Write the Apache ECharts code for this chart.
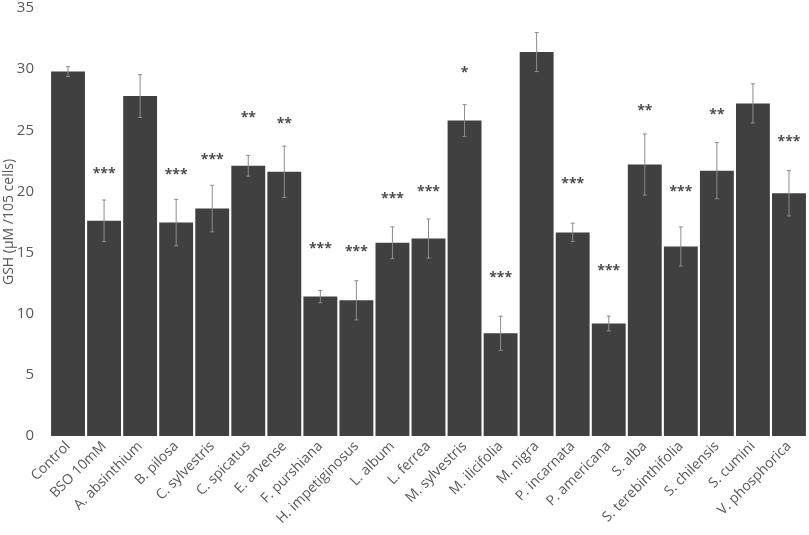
<!DOCTYPE html>
<html>
<head>
<meta charset="utf-8">
<script src="https://cdn.jsdelivr.net/npm/echarts@6/dist/echarts.min.js"></script>
<style>
  html, body { margin: 0; padding: 0; background: #fff; }
  #chart { width: 809px; height: 535px; }
</style>
</head>
<body>
<div id="chart"></div>
<script>
// 样本名称
let categories = ["Control", "BSO 10mM", "A. absinthium", "B. pilosa", "C. sylvestris", "C. spicatus",
    "E. arvense", "F. purshiana", "H. impetiginosus", "L. album", "L. ferrea", "M. sylvestris",
    "M. ilicifolia", "M. nigra", "P. incarnata", "P. americana", "S. alba", "S. terebinthifolia",
    "S. chilensis", "S. cumini", "V. phosphorica"];

// GSH 均值
let gshMean = [29.8, 17.6, 27.8, 17.45, 18.6, 22.1, 21.6, 11.4, 11.1, 15.8, 16.15, 25.8,
    8.4, 31.4, 16.65, 9.2, 22.2, 15.5, 21.7, 27.2, 19.85];

// 误差 (±)
let gshErr = [0.4, 1.7, 1.75, 1.9, 1.9, 0.85, 2.1, 0.5, 1.6, 1.3, 1.6, 1.3,
    1.4, 1.6, 0.75, 0.6, 2.5, 1.6, 2.3, 1.6, 1.85];

// 显著性标记及其高度
let sigMarks = ["", "***", "", "***", "***", "**", "**", "***", "***", "***", "***", "*",
    "***", "", "***", "***", "**", "***", "**", "", "***"];
let sigLevel = [0, 21.75, 0, 21.7, 22.9, 26.3, 25.8, 15.6, 15.35, 19.7, 20.3, 30.0,
    13.25, 0, 20.9, 13.85, 26.9, 20.25, 26.6, 0, 24.4];

let yTicks = [0, 5, 10, 15, 20, 25, 30, 35];

let font = "'Open Sans', 'Liberation Sans', sans-serif";

let errData = gshMean.map((v, i) => [i, v - gshErr[i], v + gshErr[i]]);
let sigData = [];
sigMarks.forEach((m, i) => {
    if (m) sigData.push({ value: [i, sigLevel[i]], mark: m });
});

let mychart = echarts.init(document.getElementById("chart"));
let options = {
    animation: false,
    grid: { left: 50, right: 2, top: 8, bottom: 99, containLabel: false, outerBoundsMode: "none" },
    xAxis: {
        type: "category",
        data: categories,
        axisLine: { show: false },
        axisTick: { show: false },
        axisLabel: {
            rotate: 45,
            interval: 0,
            color: "#595959",
            fontSize: 14,
            fontFamily: font,
            margin: 8
        }
    },
    yAxis: {
        type: "value",
        min: yTicks[0],
        max: yTicks[yTicks.length - 1],
        interval: 5,
        name: "GSH (μM /105 cells)",
        nameLocation: "middle",
        nameGap: 34,
        nameMoveOverlap: false,
        nameTextStyle: { color: "#595959", fontSize: 14, fontFamily: font },
        axisLine: { show: false },
        axisTick: { show: false },
        splitLine: { show: false },
        axisLabel: { color: "#595959", fontSize: 15, fontFamily: font, margin: 16 }
    },
    series: [{
        type: "bar",
        data: gshMean,
        barCategoryGap: "6%",
        itemStyle: { color: "#404040" }
    }, {
        type: "custom",
        data: errData,
        z: 10,
        renderItem: function (params, api) {
            let lo = api.coord([api.value(0), api.value(1)]);
            let hi = api.coord([api.value(0), api.value(2)]);
            let x = hi[0];
            let style = { stroke: "#8c8c8c", lineWidth: 1 };
            return {
                type: "group",
                children: [
                    { type: "line", shape: { x1: x, y1: hi[1], x2: x, y2: lo[1] }, style: style },
                    { type: "line", shape: { x1: x - 2, y1: hi[1], x2: x + 2, y2: hi[1] }, style: style },
                    { type: "line", shape: { x1: x - 2, y1: lo[1], x2: x + 2, y2: lo[1] }, style: style }
                ]
            };
        }
    }, {
        type: "scatter",
        data: sigData,
        symbolSize: 0,
        label: {
            show: true,
            position: "inside",
            offset: [0, 4],
            formatter: p => p.data.mark,
            color: "#1a1a1a",
            fontSize: 14,
            fontWeight: "bold",
            fontFamily: font
        }
    }]
};
mychart.setOption(options);
</script>
</body>
</html>
